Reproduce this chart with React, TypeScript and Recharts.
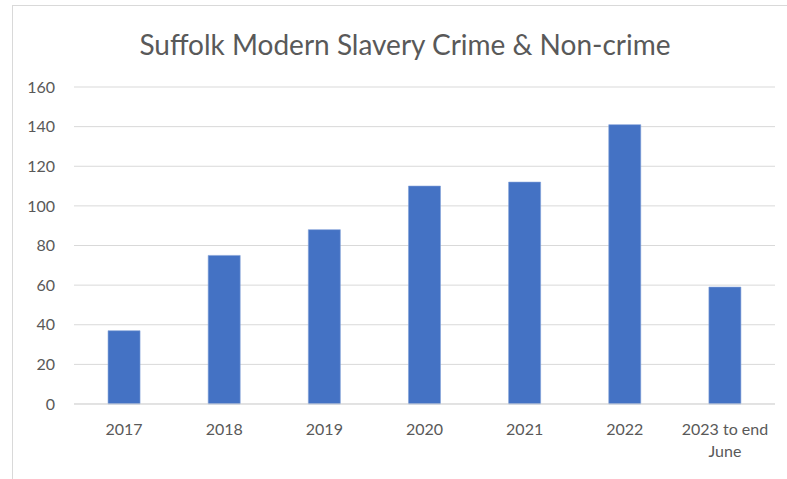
import React from 'react';
import { BarChart, Bar, XAxis, YAxis, CartesianGrid } from 'recharts';

const categories = ['2017', '2018', '2019', '2020', '2021', '2022', '2023 to end\nJune'];
const counts = [37, 75, 88, 110, 112, 141, 59];
const yTicks = [0, 20, 40, 60, 80, 100, 120, 140, 160];

const data = categories.map((name, i) => ({ name, count: counts[i] }));

const FONT = "Lato, 'Open Sans', sans-serif";
const TEXT = '#595959';
const GRID = '#d9d9d9';

function CategoryTick(props: any) {
    const { x, y, payload } = props;
    const lines = String(payload.value).split('\n');
    return (
        <g transform={`translate(${x},${y})`}>
            {lines.map((line, i) => (
                <text
                    key={i}
                    x={0}
                    y={i * 22}
                    dy="0.71em"
                    textAnchor="middle"
                    fill={TEXT}
                    fontSize={16}
                    fontFamily={FONT}
                >
                    {line}
                </text>
            ))}
        </g>
    );
}

export default function App() {
    return (
        <div style={{ position: 'absolute', left: 0, top: 0, width: 787, height: 479, background: '#fff', overflow: 'hidden' }}>
            <div style={{ position: 'absolute', left: 12, top: 5, width: 800, height: 500, borderLeft: `1px solid ${GRID}`, borderTop: `1px solid ${GRID}` }} />
            <div style={{ position: 'absolute', left: 0, top: 26, width: 810, textAlign: 'center', fontFamily: FONT, fontSize: 28, lineHeight: '36px', color: TEXT }}>
                Suffolk Modern Slavery Crime &amp; Non-crime
            </div>
            <div style={{ position: 'absolute', left: 0, top: 0 }}>
                <BarChart
                    width={787}
                    height={479}
                    data={data}
                    margin={{ top: 87, right: 12, bottom: 0, left: 0 }}
                    barCategoryGap="34%"
                >
                    <CartesianGrid vertical={false} stroke={GRID} strokeWidth={1} />
                    <XAxis
                        dataKey="name"
                        axisLine={{ stroke: GRID }}
                        tickLine={false}
                        tickSize={6}
                        tickMargin={14}
                        height={75}
                        interval={0}
                        tick={<CategoryTick />}
                    />
                    <YAxis
                        width={74}
                        domain={[0, 160]}
                        ticks={yTicks}
                        axisLine={false}
                        tickLine={false}
                        tickMargin={13}
                        tick={{ fill: TEXT, fontSize: 16, fontFamily: FONT }}
                    />
                    <Bar dataKey="count" fill="#4472C4" stroke="#7f9fd6" strokeWidth={0.6} isAnimationActive={false} />
                </BarChart>
            </div>
        </div>
    );
}
